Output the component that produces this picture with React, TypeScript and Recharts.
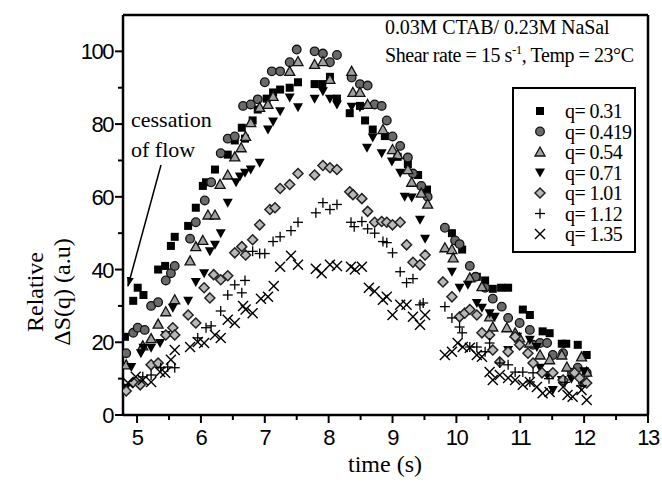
import React from 'react';
import { ScatterChart, Scatter, XAxis, YAxis, ReferenceLine } from 'recharts';

// time (s), relative ΔS(q)
const q031 = [[4.81,21.5],[4.94,31.4],[5.01,35],[5.1,33],[5.33,40],[5.44,41],[5.53,46.5],[5.59,49],[5.8,52],[5.92,57],[6.03,63],[6.08,64],[6.22,67.5],[6.42,71.6],[6.53,75.5],[6.64,79],[6.69,76],[6.81,81],[6.89,84],[7.03,87],[7.13,88.7],[7.24,89.5],[7.39,90],[7.52,91.5],[7.78,91],[7.9,91],[8.02,93],[8.13,87],[8.33,83],[8.49,85],[8.57,81],[8.69,78.5],[8.88,76.7],[9.08,71],[9.24,69],[9.4,66],[9.54,62],[9.93,50],[10.09,45.5],[10.32,38],[10.45,37],[10.57,34.7],[10.7,35],[10.81,35],[11.04,29],[11.15,27.5],[11.35,23],[11.46,22.5],[11.65,19.6],[11.72,19.6],[11.9,19.3],[12.04,16.5]];
const q0419 = [[4.83,17],[4.94,22.6],[5.01,24],[5.12,23.4],[5.22,30],[5.33,31],[5.45,37],[5.53,39],[5.59,41],[5.83,48.5],[5.92,53],[6.06,59],[6.16,64],[6.31,72],[6.42,76],[6.53,76.6],[6.66,85],[6.78,85.4],[6.89,86.8],[7.0,91.5],[7.11,94.5],[7.24,94.5],[7.39,97],[7.5,100.5],[7.78,100],[7.91,99.4],[8.02,97],[8.13,99],[8.36,92.8],[8.49,91],[8.61,90.6],[8.72,85.4],[8.83,85],[8.91,81],[9.0,76.6],[9.12,74],[9.24,70.8],[9.32,66.4],[9.45,63],[9.55,60],[9.82,51.5],[9.98,48],[10.05,47],[10.21,41],[10.3,38],[10.45,35],[10.57,32],[10.71,29.8],[10.81,26.7],[10.99,25.3],[11.15,23.4],[11.2,19.3],[11.31,19.8],[11.42,19.8],[11.51,16.5],[11.67,17],[11.81,11.6],[11.9,13],[11.98,9],[12.04,11.6]];
const q054 = [[4.83,13.8],[5.09,19],[5.22,21],[5.33,25],[5.45,28.4],[5.59,31.7],[5.83,42.4],[5.92,46.3],[6.03,48],[6.11,55],[6.22,55],[6.3,63.4],[6.42,66],[6.53,71],[6.63,73.5],[6.7,76.6],[6.78,80.4],[6.92,84.6],[7.05,85.4],[7.13,87.6],[7.39,94.5],[7.52,97.2],[7.78,96.4],[7.91,97.2],[8.02,92.3],[8.36,94.5],[8.38,88.7],[8.49,88.7],[8.61,85.4],[8.85,78.5],[9.0,73],[9.08,71.6],[9.24,67.5],[9.3,64],[9.45,61],[9.55,58],[9.82,46],[9.93,45.5],[9.95,43.2],[10.21,37.7],[10.4,35.3],[10.52,27],[10.57,24.2],[10.79,24],[10.92,22.6],[10.99,21.2],[11.15,19.8],[11.31,16.5],[11.46,15.2],[11.65,16.5],[11.73,13.2],[11.96,16],[12.04,11.8]];
const q071 = [[4.83,7.5],[4.91,13.2],[5.06,17],[5.1,18.5],[5.22,18.5],[5.36,19.8],[5.45,22],[5.56,29.5],[5.8,31.4],[5.92,36.6],[6.05,39],[6.14,45],[6.22,46.8],[6.31,50],[6.42,58.4],[6.55,64],[6.61,65.6],[6.69,66.6],[6.78,67.5],[6.92,69.4],[7.05,78.5],[7.13,80.7],[7.24,83.5],[7.39,87.3],[7.52,84.6],[7.78,87],[7.91,89],[8.02,87],[8.13,85.4],[8.36,84.8],[8.49,84.6],[8.6,73.5],[8.69,76.3],[8.83,72],[8.99,69.7],[9.12,66.6],[9.19,60],[9.3,59.8],[9.43,53.7],[9.51,48.5],[9.93,39.4],[10.05,35],[10.18,35.8],[10.32,30.8],[10.4,29.5],[10.52,28],[10.6,27],[10.81,17.9],[10.95,21.5],[11.15,20.7],[11.26,18.7],[11.31,13],[11.42,11],[11.51,6.9],[11.65,9.6],[11.8,10],[12.0,12]];
const q101 = [[4.83,6.6],[4.94,9],[5.05,8.3],[5.22,13.8],[5.33,14.3],[5.45,22],[5.56,24],[5.59,22],[5.8,27.5],[5.92,25.3],[6.05,35],[6.14,32.2],[6.2,38.6],[6.31,37.2],[6.42,38.3],[6.53,44.6],[6.64,46.3],[6.7,44],[6.81,48.2],[6.92,52.3],[7.08,56.5],[7.16,57],[7.24,62.3],[7.39,63.4],[7.52,66.4],[7.78,66],[7.91,68.6],[8.02,68],[8.13,67.5],[8.33,61.4],[8.38,60.6],[8.52,59.5],[8.61,56],[8.72,53],[8.83,53.2],[8.91,53],[9.0,52.3],[9.12,53],[9.22,46.8],[9.32,42],[9.43,41.3],[9.51,44],[9.79,36.6],[9.93,32.5],[10.05,27],[10.13,28],[10.21,29],[10.32,27.5],[10.4,22.6],[10.52,22],[10.57,17.9],[10.68,14.6],[10.81,17.4],[10.92,21.5],[10.99,19.3],[11.12,17],[11.2,14.3],[11.34,11.6],[11.51,11.6],[11.67,9.6],[11.85,11.6],[11.93,10.2],[12.04,8.8]];
const q112 = [[5.09,10.5],[5.22,11],[5.37,13],[5.48,13.2],[5.59,13],[5.95,21.2],[6.08,24],[6.16,24.5],[6.31,28.6],[6.42,33],[6.53,35.8],[6.64,33.6],[6.69,37],[6.81,45],[6.92,44.4],[7.0,44.4],[7.13,47.7],[7.24,49],[7.41,50.7],[7.52,53],[7.8,55.6],[7.91,58.4],[8.02,56.5],[8.13,57.9],[8.35,53],[8.4,51.8],[8.52,53.2],[8.61,51.2],[8.72,50],[8.85,47.7],[8.91,47.4],[9.0,44.6],[9.12,39.4],[9.22,36.4],[9.32,37.5],[9.43,30.3],[9.48,30.8],[9.82,29.8],[9.93,26.7],[10.05,24.2],[10.09,22.6],[10.21,18.7],[10.32,18.7],[10.45,17.4],[10.52,19.8],[10.68,14.3],[10.81,13.8],[10.92,11.8],[11.04,11.8],[11.15,9.1],[11.2,11.6],[11.45,10],[11.7,9],[11.95,8]];
const q135 = [[4.86,8.8],[4.98,10.5],[5.09,9.6],[5.22,9.1],[5.36,11.8],[5.44,11.6],[5.53,15.2],[5.59,17.9],[5.83,18.7],[5.95,20.1],[6.05,19.8],[6.22,22],[6.31,21.2],[6.42,26.2],[6.53,25.3],[6.66,30],[6.7,29],[6.81,28],[6.94,32],[7.05,32.5],[7.14,35.5],[7.24,40.8],[7.41,43.8],[7.52,41.3],[7.8,40.2],[7.89,39],[8.02,41.3],[8.13,41],[8.35,40.8],[8.41,40],[8.52,40.8],[8.63,35],[8.72,34],[8.85,31.7],[8.91,32.5],[9.0,27.5],[9.12,30.3],[9.22,30.3],[9.32,27],[9.43,24.8],[9.51,27.5],[9.82,16.5],[9.93,17.4],[10.02,19.8],[10.1,18.7],[10.21,18.5],[10.32,16.5],[10.4,16],[10.52,11.8],[10.57,9.6],[10.68,11],[10.81,10.2],[10.92,9.6],[11.04,8.3],[11.15,9.1],[11.26,7.7],[11.35,6],[11.46,6.3],[11.67,7.7],[11.74,5.5],[11.82,5],[11.96,6.9],[12.04,4.1]];

const seriesNames = ['q= 0.31', 'q= 0.419', 'q= 0.54', 'q= 0.71', 'q= 1.01', 'q= 1.12', 'q= 1.35'];
const seriesMarkers = ['square', 'circle', 'triUp', 'triDown', 'diamond', 'plus', 'cross'];
const seriesData = [q031, q0419, q054, q071, q101, q112, q135];

const xTicks = [5, 5.5, 6, 6.5, 7, 7.5, 8, 8.5, 9, 9.5, 10, 10.5, 11, 11.5, 12, 12.5, 13];
const yTicks = [0, 10, 20, 30, 40, 50, 60, 70, 80, 90, 100];

const serif = '"Liberation Serif", "Times New Roman", serif';
const sans = '"Liberation Sans", Arial, sans-serif';

function Marker({ kind, cx, cy }: { kind: string; cx: number; cy: number }) {
  switch (kind) {
    case 'square':
      return <rect x={cx - 4} y={cy - 4} width={8} height={8} fill="#000" />;
    case 'circle':
      return <circle cx={cx} cy={cy} r={4.3} fill="#6a6a6a" stroke="#111" strokeWidth={1.3} />;
    case 'triUp':
      return <polygon points={`${cx},${cy - 5} ${cx + 5},${cy + 4} ${cx - 5},${cy + 4}`} fill="#a0a0a0" stroke="#111" strokeWidth={1.3} />;
    case 'triDown':
      return <polygon points={`${cx - 5},${cy - 4} ${cx + 5},${cy - 4} ${cx},${cy + 5}`} fill="#000" />;
    case 'diamond':
      return <polygon points={`${cx},${cy - 5} ${cx + 5},${cy} ${cx},${cy + 5} ${cx - 5},${cy}`} fill="#b8b8b8" stroke="#222" strokeWidth={1.5} />;
    case 'plus':
      return (
        <g stroke="#000" strokeWidth={1.3}>
          <line x1={cx - 5} x2={cx + 5} y1={cy} y2={cy} />
          <line x1={cx} x2={cx} y1={cy - 5} y2={cy + 5} />
        </g>
      );
    default:
      return (
        <g stroke="#000" strokeWidth={1.4}>
          <line x1={cx - 5} x2={cx + 5} y1={cy - 5} y2={cy + 5} />
          <line x1={cx - 5} x2={cx + 5} y1={cy + 5} y2={cy - 5} />
        </g>
      );
  }
}

function XTick({ x, y, payload }: any) {
  const v = payload.value;
  const major = Number.isInteger(v);
  return (
    <g>
      <line x1={x} x2={x} y1={y} y2={y + (major ? 8 : 5)} stroke="#000" strokeWidth={2} />
      {major && (
        <text x={x} y={y + 30} textAnchor="middle" fontFamily={sans} fontSize={22} letterSpacing={-1.5} fill="#000">
          {v}
        </text>
      )}
    </g>
  );
}

function YTick({ x, y, payload }: any) {
  const v = payload.value;
  const major = v % 20 === 0;
  return (
    <g>
      <line x1={x} x2={x - (major ? 8 : 5)} y1={y} y2={y} stroke="#000" strokeWidth={2} />
      {major && (
        <text x={x - 10} y={y + 8} textAnchor="end" fontFamily={sans} fontSize={22} letterSpacing={-1.5} fill="#000">
          {v}
        </text>
      )}
    </g>
  );
}

export default function App() {
  return (
    <div style={{ position: 'absolute', left: 0, top: 0, width: 662, height: 482, background: '#fff' }}>
      <ScatterChart width={662} height={482} margin={{ top: 15, right: 14, bottom: 0, left: 0 }}>
        <XAxis
          type="number"
          dataKey="x"
          domain={[4.78, 13]}
          ticks={xTicks}
          height={67}
          tickSize={0}
          tickMargin={0}
          tick={<XTick />}
          axisLine={{ stroke: '#000', strokeWidth: 2.5 }}
          allowDataOverflow
        />
        <YAxis
          type="number"
          dataKey="y"
          domain={[0, 110]}
          ticks={yTicks}
          width={123}
          tickSize={0}
          tickMargin={0}
          tick={<YTick />}
          axisLine={{ stroke: '#000', strokeWidth: 2.5 }}
          allowDataOverflow
        />
        <ReferenceLine y={110} stroke="#000" strokeWidth={2.5} />
        <ReferenceLine x={13} stroke="#000" strokeWidth={2.5} />
        {seriesData.map((d, i) => (
          <Scatter
            key={seriesNames[i]}
            name={seriesNames[i]}
            data={d.map(([x, y]) => ({ x, y }))}
            isAnimationActive={false}
            shape={(p: any) => <Marker kind={seriesMarkers[i]} cx={p.cx} cy={p.cy} />}
          />
        ))}
      </ScatterChart>
      <svg width={662} height={482} style={{ position: 'absolute', left: 0, top: 0, pointerEvents: 'none' }}>
        <defs>
          <marker id="arrow" markerWidth="10" markerHeight="10" refX="9" refY="5" orient="auto" markerUnits="userSpaceOnUse">
            <path d="M0,1.5 L10,5 L0,8.5 z" fill="#000" />
          </marker>
        </defs>
        <g fontFamily={serif} fill="#000">
          <text x={385} y={34} fontSize={20} letterSpacing={-0.1}>0.03M CTAB/ 0.23M NaSal</text>
          <text x={385} y={62} fontSize={20} letterSpacing={-0.45}>
            Shear rate = 15 s<tspan dy={-8} fontSize={13}>-1</tspan>
            <tspan dy={8}>, Temp = 23°C</tspan>
          </text>
          <text x={131} y={127} fontSize={22}>cessation</text>
          <text x={131} y={157} fontSize={22}>of flow</text>
          <text x={385} y={472} fontSize={24} textAnchor="middle">time (s)</text>
          <text x={43} y={292} fontSize={24} textAnchor="middle" transform="rotate(-90 43 292)">Relative</text>
          <text x={70} y={292} fontSize={24} textAnchor="middle" transform="rotate(-90 70 292)">ΔS(q) (a.u)</text>
        </g>
        <line x1={161} y1={165} x2={128} y2={286} stroke="#000" strokeWidth={1.5} markerEnd="url(#arrow)" />
        <rect x={513} y={88} width={122} height={164} fill="none" stroke="#000" strokeWidth={2} />
        {seriesNames.map((n, i) => (
          <g key={n}>
            <Marker kind={seriesMarkers[i]} cx={540} cy={111 + i * 20.5} />
            <text x={565} y={118 + i * 20.5} fontFamily={serif} fontSize={20} letterSpacing={-0.6} fill="#000">
              {n}
            </text>
          </g>
        ))}
      </svg>
    </div>
  );
}
